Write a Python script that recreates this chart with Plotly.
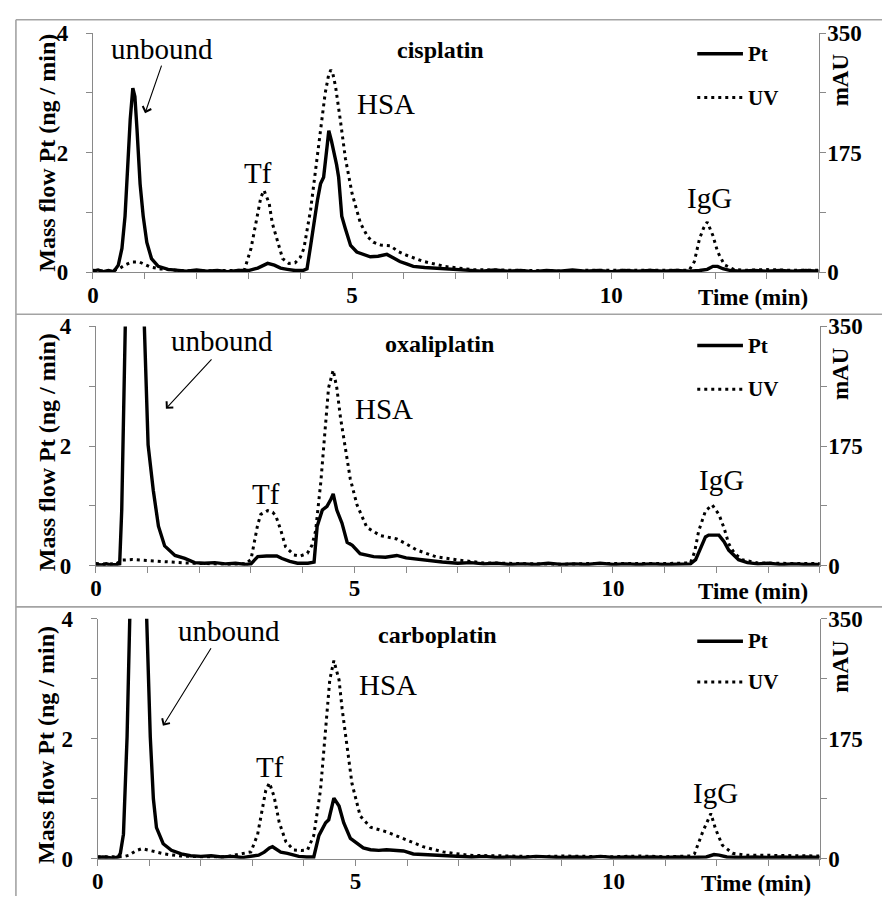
import plotly.graph_objects as go

# ---------------- data ----------------
# time axis in minutes; Pt in ng/min (left axis); UV in mAU (right axis)

CIS_PT_T = [0,0.1,0.2,0.3,0.4,0.49,0.56,0.62,0.67,0.72,0.77,0.81,0.85,0.91,0.97,1.04,1.13,1.26,1.45,1.6,
            1.8,2.0,2.2,2.4,2.6,2.8,3.0,3.18,3.3,3.37,3.5,3.62,3.75,3.9,4.05,4.13,4.2,4.26,4.33,4.39,
            4.45,4.52,4.55,4.6,4.65,4.7,4.74,4.8,4.87,4.97,5.09,5.2,5.35,5.5,5.67,5.8,5.92,6.05,6.18,6.4,
            6.7,7.0,7.25,7.5,7.75,8.0,8.25,8.5,8.75,9.0,9.25,9.5,9.75,10.0,10.25,10.5,10.75,11.0,11.25,11.5,
            11.7,11.85,11.96,12.05,12.15,12.3,12.5,12.75,13.0,13.25,13.5,13.75,14.0]
CIS_PT_V = [0.02,0.04,0.01,0.03,0.01,0.12,0.40,0.94,1.75,2.56,3.08,2.94,2.40,1.48,0.94,0.50,0.23,0.10,0.05,0.04,
            0.02,0.04,0.02,0.03,0.01,0.03,0.03,0.07,0.13,0.15,0.12,0.07,0.05,0.03,0.03,0.06,0.45,0.83,1.20,1.48,
            1.59,2.13,2.37,2.20,2.02,1.80,1.59,0.94,0.73,0.45,0.34,0.30,0.26,0.27,0.30,0.24,0.18,0.14,0.10,0.08,
            0.06,0.04,0.03,0.02,0.04,0.02,0.03,0.01,0.03,0.02,0.04,0.02,0.03,0.01,0.03,0.02,0.03,0.02,0.03,0.02,
            0.03,0.05,0.10,0.10,0.06,0.03,0.02,0.03,0.02,0.03,0.02,0.03,0.02]
CIS_UV_T = [0,0.2,0.4,0.5,0.6,0.75,0.9,1.0,1.1,1.3,1.6,2.0,2.5,2.92,3.05,3.15,3.24,3.30,3.40,3.46,
            3.56,3.66,3.78,3.9,4.0,4.07,4.2,4.29,4.39,4.48,4.55,4.59,4.63,4.68,4.77,4.87,5.0,5.16,5.3,5.41,
            5.55,5.73,5.9,6.05,6.37,6.8,7.3,8.0,8.5,9.0,9.5,10.0,10.5,11.0,11.5,11.6,11.7,11.78,11.85,11.96,
            12.05,12.18,12.37,12.6,13.0,13.5,14.0]
CIS_UV_V = [3,2,3,5,10,15,15,12,8,5,3,2,2,3,35,72,110,120,101,72,
            44,20,13,14,22,35,92,144,210,262,290,296,290,272,224,167,115,72,52,44,
            40,39,30,25,16,8.5,4,3,3,2,3,3,2,3,3,15.6,49,65,73.6,53.6,
            30,11,4,3,4,3,3]

OXA_PT_T = [0,0.1,0.2,0.3,0.4,0.46,0.50,0.53,0.575,0.70,0.93,1.01,1.11,1.21,1.33,1.53,1.72,1.91,2.1,2.3,
            2.5,2.7,2.9,3.0,3.13,3.3,3.5,3.6,3.75,3.9,4.1,4.22,4.28,4.38,4.47,4.54,4.59,4.66,4.76,4.86,
            4.96,5.11,5.37,5.6,5.82,6.0,6.27,6.7,7.0,7.25,7.5,7.75,8.0,8.25,8.5,8.75,9.0,9.25,9.5,9.75,
            10.0,10.25,10.5,10.75,11.0,11.25,11.5,11.6,11.79,11.85,12.05,12.15,12.24,12.43,12.6,12.8,13.0,13.25,13.5,13.75,
            14.0]
OXA_PT_V = [0.02,0.01,0.03,0.01,0.02,0.03,0.93,2.56,4.3,9.0,4.2,2.02,1.26,0.66,0.33,0.17,0.12,0.05,0.04,0.05,
            0.03,0.04,0.02,0.03,0.15,0.16,0.16,0.12,0.07,0.04,0.04,0.06,0.66,0.93,0.99,1.10,1.20,0.93,0.71,0.39,
            0.34,0.20,0.15,0.14,0.17,0.13,0.10,0.06,0.04,0.05,0.03,0.04,0.02,0.03,0.02,0.04,0.02,0.03,0.02,0.04,
            0.02,0.03,0.02,0.03,0.02,0.03,0.03,0.10,0.48,0.51,0.51,0.40,0.26,0.10,0.05,0.03,0.04,0.02,0.03,0.02,
            0.02]
OXA_UV_T = [0,0.2,0.4,0.5,0.7,1.0,1.3,1.7,2.2,2.6,2.9,3.0,3.13,3.19,3.32,3.42,3.48,3.58,3.67,3.83,
            3.95,4.09,4.18,4.25,4.35,4.44,4.5,4.59,4.66,4.73,4.83,4.92,5.05,5.24,5.5,5.82,6.0,6.2,6.58,7.03,
            7.5,8.0,8.5,9.0,9.5,10.0,10.5,11.0,11.5,11.58,11.66,11.79,11.92,12.05,12.15,12.24,12.35,12.5,12.8,13.2,
            13.6,14.0]
OXA_UV_V = [3,2,3,8,9,8,6,4,3,2,3,9,60,75,80.5,78,73,51,27.5,15.6,
            14,18,30,51,122,203,260,286,260,217,170,127,89,56,44,39,32,23,13,8,
            4,3,3,2,3,3,2,3,4,20,51,80,89,75,55,32,18,8.5,4,3,
            3,3]

CAR_PT_T = [0,0.1,0.2,0.3,0.4,0.44,0.50,0.57,0.63,0.75,0.94,1.02,1.08,1.14,1.27,1.43,1.62,1.8,2.0,2.2,
            2.4,2.6,2.8,3.0,3.12,3.23,3.33,3.39,3.47,3.55,3.68,3.9,4.05,4.19,4.29,4.42,4.48,4.53,4.58,4.68,
            4.77,4.9,5.03,5.15,5.29,5.45,5.6,5.75,5.93,6.12,6.57,7.0,7.25,7.5,7.75,8.0,8.25,8.5,8.75,9.0,
            9.25,9.5,9.75,10.0,10.25,10.5,10.75,11.0,11.25,11.5,11.8,11.95,12.05,12.2,12.5,12.75,13.0,13.25,13.5,13.75,
            14.0]
CAR_PT_V = [0.02,0.03,0.02,0.01,0.03,0.09,0.41,2.03,4.3,9.0,4.3,2.03,1.0,0.52,0.25,0.14,0.08,0.05,0.04,0.05,
            0.03,0.04,0.02,0.04,0.06,0.11,0.18,0.2,0.15,0.11,0.09,0.04,0.03,0.03,0.39,0.6,0.65,0.85,1.01,0.88,
            0.6,0.34,0.25,0.18,0.15,0.14,0.15,0.14,0.13,0.08,0.06,0.04,0.03,0.04,0.02,0.03,0.02,0.04,0.03,0.02,
            0.03,0.02,0.04,0.02,0.03,0.02,0.03,0.02,0.03,0.02,0.03,0.07,0.06,0.03,0.02,0.03,0.02,0.03,0.02,0.03,
            0.02]
CAR_UV_T = [0,0.3,0.5,0.6,0.75,0.86,1.0,1.3,1.6,2.0,2.5,2.97,3.1,3.17,3.26,3.33,3.42,3.52,3.65,3.8,
            3.95,4.07,4.19,4.32,4.42,4.5,4.58,4.68,4.74,4.84,4.93,5.09,5.29,5.61,5.93,6.31,6.7,7.2,8.0,8.5,
            9.0,9.5,10.0,10.5,11.0,11.5,11.57,11.73,11.89,11.98,12.11,12.31,12.6,13.0,13.5,14.0]
CAR_UV_V = [3,3,3,5,12,14.7,12,7,4,3,3,10,35,62,100,110.7,91,53,24.7,12.8,
            12,12.8,34,100,185,261,289,261,218.5,162,110,62.4,46,39,29,17.6,10,5,4,3,
            4,3,3,4,3,4,7,39,66,43.5,20,8,5,5,4,4]

DRUGS = ["cisplatin", "oxaliplatin", "carboplatin"]
SERIES = [(CIS_PT_T, CIS_PT_V, CIS_UV_T, CIS_UV_V),
          (OXA_PT_T, OXA_PT_V, OXA_UV_T, OXA_UV_V),
          (CAR_PT_T, CAR_PT_V, CAR_UV_T, CAR_UV_V)]

X_TICKS = list(range(15))
X_LABELS = ["0", "", "", "", "", "5", "", "", "", "", "10", "", "", "", ""]
PT_TICKS = [0, 1, 2, 3, 4]
PT_LABELS = ["0", "", "2", "", "4"]
UV_TICKS = [0, 87.5, 175, 262.5, 350]
UV_LABELS = ["0", "", "175", "", "350"]

# ---------------- layout (pixel geometry) ----------------
W, H = 882, 909
def fx(p):
    return p / W
def fy(p):
    return 1 - p / H

def bold(s):
    return f"<b>{s}</b>" if s else ""

PANEL_GEOM = [
    dict(xl=87.5, xr=818.3, yb=267.7, yt=21.7),
    dict(xl=90.5, xr=819.3, yb=569.3, yt=323.3),
    dict(xl=92.3, xr=819.3, yb=870.7, yt=624.0),
]

SERIF = "Liberation Serif"
AX_GREY = "#898989"
BORDER_GREY = "#a3a3a3"

fig = go.Figure()
layout = dict(
    width=W, height=H, autosize=False,
    margin=dict(l=0, r=0, t=0, b=0, pad=0),
    paper_bgcolor="white", plot_bgcolor="white",
    showlegend=False,
    font=dict(family=SERIF, color="black"),
)

tickfont = dict(family=SERIF, size=23, color="black")

annotations = []
shapes = []

def ann(text, x, y, size, xanchor="center", angle=0):
    annotations.append(dict(
        text=text, x=fx(x), y=fy(y), xref="paper", yref="paper",
        xanchor=xanchor, yanchor="middle", showarrow=False, textangle=angle,
        font=dict(family=SERIF, size=size, color="black"),
    ))

LABELS = [
    dict(unb=(157, 38), arrow=((140, 104), (157, 55)), tf=(254, 166), hsa=(383, 95), igg=(708, 191),
         title=(437, 39), ylab=(41, 145), mau=(840, 70), time=(752, 294), leg_pt=43, leg_uv=88),
    dict(unb=(217, 338), arrow=((161, 408), (208, 357)), tf=(262, 496), hsa=(381, 408), igg=(720, 481),
         title=(436, 341), ylab=(41, 453), mau=(840, 372), time=(752, 596), leg_pt=343, leg_uv=388),
    dict(unb=(225, 637), arrow=((158, 734), (207, 655)), tf=(266, 776), hsa=(385, 692), igg=(714, 803),
         title=(434, 641), ylab=(41, 754), mau=(840, 673), time=(755, 896), leg_pt=647, leg_uv=689),
]

for i, (g, lab, drug, (pt_t, pt_v, uv_t, uv_v)) in enumerate(zip(PANEL_GEOM, LABELS, DRUGS, SERIES), start=1):
    xa = "xaxis" if i == 1 else f"xaxis{i}"
    xr = "x" if i == 1 else f"x{i}"
    yl_n, yr_n = 2 * i - 1, 2 * i
    yl = "yaxis" if yl_n == 1 else f"yaxis{yl_n}"
    ylr = "y" if yl_n == 1 else f"y{yl_n}"
    yr = f"yaxis{yr_n}"
    yrr = f"y{yr_n}"

    layout[xa] = dict(
        domain=[fx(g["xl"]), fx(g["xr"])], anchor=ylr, range=[0, 14],
        tickvals=X_TICKS, ticktext=[bold(s) for s in X_LABELS], ticks="outside", ticklen=6, tickcolor=AX_GREY,
        showline=True, linecolor=AX_GREY, linewidth=1, showgrid=False, zeroline=False,
        tickfont=tickfont, ticklabelstandoff=-4,
    )
    layout[yl] = dict(
        domain=[fy(g["yb"]), fy(g["yt"])], anchor=xr, range=[0, 4],
        tickvals=PT_TICKS, ticktext=[bold(s) for s in PT_LABELS], ticks="outside", ticklen=6, tickcolor=AX_GREY,
        showline=True, linecolor=AX_GREY, linewidth=1, showgrid=False, zeroline=False,
        tickfont=tickfont, ticklabelstandoff=13,
    )
    layout[yr] = dict(
        overlaying=ylr, side="right", anchor=xr, range=[0, 350],
        tickvals=UV_TICKS, ticktext=[bold(s) for s in UV_LABELS], ticks="outside", ticklen=6, tickcolor=AX_GREY,
        showline=True, linecolor=AX_GREY, linewidth=1, showgrid=False, zeroline=False,
        tickfont=tickfont, ticklabelstandoff=-3,
    )

    fig.add_trace(go.Scatter(x=uv_t, y=uv_v, mode="lines", xaxis=xr, yaxis=yrr, name="UV",
                             line=dict(color="black", width=3, dash="3px,4px")))
    fig.add_trace(go.Scatter(x=pt_t, y=pt_v, mode="lines", xaxis=xr, yaxis=ylr, name="Pt",
                             line=dict(color="black", width=3.4)))

    ann("unbound", *lab["unb"], 29)
    ann("Tf", *lab["tf"], 29)
    ann("HSA", *lab["hsa"], 29)
    ann("IgG", *lab["igg"], 29)
    ann(bold(drug), *lab["title"], 24)
    ann(bold("Mass flow Pt (ng / min)"), *lab["ylab"], 24, angle=-90)
    ann(bold("mAU"), *lab["mau"], 23, angle=-90)
    ann(bold("Time (min)"), *lab["time"], 23)
    ann(bold("Pt"), 745, lab["leg_pt"], 21, xanchor="left")
    ann(bold("UV"), 745, lab["leg_uv"], 21, xanchor="left")

    (hx, hy), (tx, ty) = lab["arrow"]
    annotations.append(dict(
        text="", x=fx(hx), y=fy(hy), xref="paper", yref="paper",
        ax=tx - hx, ay=ty - hy, axref="pixel", ayref="pixel",
        showarrow=True, arrowhead=4, arrowsize=1.6, arrowwidth=1.1, arrowcolor="black",
    ))

    shapes.append(dict(type="line", xref="paper", yref="paper",
                       x0=fx(696), x1=fx(742), y0=fy(lab["leg_pt"]), y1=fy(lab["leg_pt"]),
                       line=dict(color="black", width=3.5)))
    shapes.append(dict(type="line", xref="paper", yref="paper",
                       x0=fx(696), x1=fx(742), y0=fy(lab["leg_uv"]), y1=fy(lab["leg_uv"]),
                       line=dict(color="black", width=3, dash="3px,4px")))

for yb in [8, 310.8, 611.7]:
    shapes.append(dict(type="line", xref="paper", yref="paper", x0=fx(10), x1=fx(882),
                       y0=fy(yb), y1=fy(yb), line=dict(color=BORDER_GREY, width=1.6)))
shapes.append(dict(type="line", xref="paper", yref="paper", x0=fx(10), x1=fx(10),
                   y0=fy(8), y1=fy(909), line=dict(color=BORDER_GREY, width=1.6)))

layout["annotations"] = annotations
layout["shapes"] = shapes
fig.update_layout(**layout)

fig.write_html("out.html", config={"displayModeBar": False},
               post_script="document.body.style.margin='0';document.body.style.overflow='hidden';")
